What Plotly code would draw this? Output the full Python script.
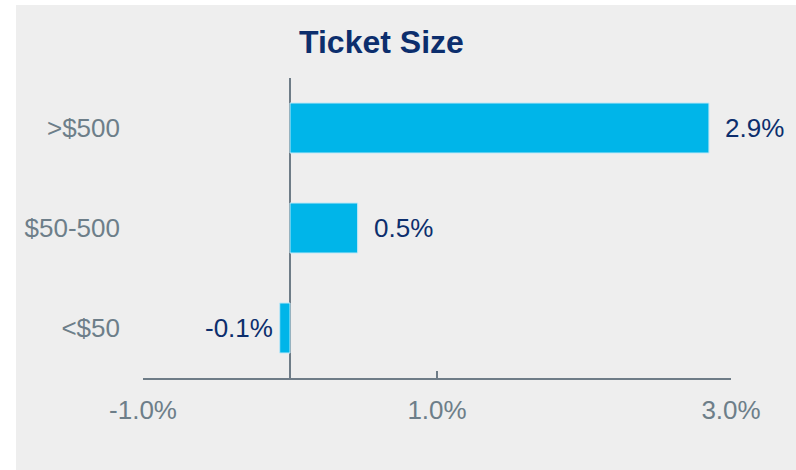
import plotly.graph_objects as go

categories = ["<$50", "$50-500", ">$500"]
values = [-0.07, 0.46, 2.85]
tick_vals = [-1.0, 1.0, 3.0]
tick_text = ["-1.0%", "1.0%", "3.0%"]
title_text = "Ticket Size"

W, H = 796, 470
L, R, T, B = 143, 65, 78, 92
PW, PH = W - L - R, H - T - B

BAR = "#00b5e9"
NAVY = "#0c2e6d"
GREY = "#6d7e89"
AXIS = "#6e7c87"
BG = "#eeeeee"
FONT = "Liberation Sans, Arial, sans-serif"

fig = go.Figure()
fig.add_trace(go.Bar(
    x=values, y=categories, orientation="h",
    marker=dict(color=BAR, line=dict(color="#bfe8f7", width=1)),
    hoverinfo="skip",
))

annotations = []
for c, v in zip(categories, values):
    annotations.append(dict(
        x=v, y=c, xref="x", yref="y",
        text=f"{v:.1f}%",
        showarrow=False,
        xanchor="left" if v >= 0 else "right",
        xshift=15 if v >= 0 else -6,
        yanchor="middle",
        borderpad=0,
        font=dict(family=FONT, size=26, color=NAVY),
    ))
annotations.append(dict(
    x=(381.5 - L) / PW, y=(H - 42 - B) / PH, xref="paper", yref="paper",
    text=f"<b>{title_text}</b>", showarrow=False,
    xanchor="center", yanchor="middle", borderpad=0,
    font=dict(family=FONT, size=32, color=NAVY),
))

fig.update_layout(
    width=W, height=H,
    margin=dict(l=L, r=R, t=T, b=B, pad=0),
    paper_bgcolor="white",
    plot_bgcolor=BG,
    showlegend=False,
    bargap=0.5,
    annotations=annotations,
    shapes=[dict(type="rect", xref="paper", yref="paper",
                 x0=(16 - L) / PW, x1=1 + (R + 5) / PW,
                 y0=-(B + 5) / PH, y1=1 + (T - 5) / PH,
                 fillcolor=BG, line=dict(width=0), layer="below")],
    xaxis=dict(
        range=[-1, 3], tickvals=tick_vals, ticktext=tick_text,
        showgrid=False, zeroline=True, zerolinecolor=AXIS, zerolinewidth=2,
        showline=True, linecolor=AXIS, linewidth=2,
        ticks="inside", ticklen=7, tickwidth=2, tickcolor=AXIS,
        tickfont=dict(family=FONT, size=26, color=GREY),
        ticklabelstandoff=8,
        fixedrange=True,
    ),
    yaxis=dict(
        categoryorder="array", categoryarray=categories,
        range=[-0.5, 2.5],
        showgrid=False, zeroline=False, showline=False, ticks="",
        tickfont=dict(family=FONT, size=26, color=GREY),
        ticklabelstandoff=22,
        fixedrange=True,
    ),
)

fig.write_html("out.html")
